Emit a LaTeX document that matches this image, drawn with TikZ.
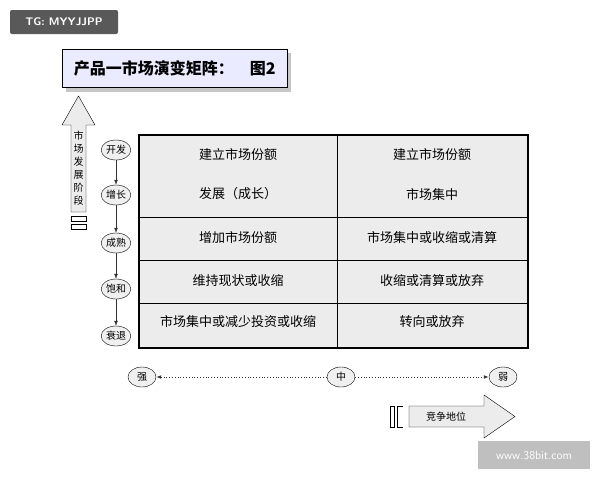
\documentclass[tikz,border=0pt]{standalone}
\usepackage{fontspec}
\newfontfamily\cjk{Noto Sans CJK SC}
\usetikzlibrary{arrows.meta,shapes.geometric}
\begin{document}
\begin{tikzpicture}[x=1pt,y=-1pt,font=\cjk\fontsize{12}{14}\selectfont,
  stage/.style={ellipse,draw,fill=gray!12,inner sep=0.5pt,minimum width=28pt,minimum height=20pt,font=\cjk\fontsize{10}{11}\selectfont},
  cell/.style={font=\cjk\fontsize{13}{15}\selectfont},
  flow/.style={-{Latex[length=5pt]},draw=gray!40!black}]
\useasboundingbox (0,0) rectangle (600,480);
\fill[white] (0,0) rectangle (600,480);
% badge
\fill[gray!70!black,rounded corners=2pt] (10,10) rectangle (118,34);
\node[text=white,font=\sffamily\bfseries\fontsize{11}{12}\selectfont] (tg) at (64,22) {TG: MYYJJPP};
% title
\fill[gray!45] (66,53) rectangle (291,92);
\node[draw,fill=blue!8,minimum width=225pt,minimum height=38pt,anchor=north west,font=\cjk\bfseries\fontsize{16}{18}\selectfont] (title) at (62,49) {产品一市场演变矩阵：\quad 图2};
% up arrow
\draw[fill=gray!15] (71,212) -- (71,125) -- (62,125) -- (78.5,96) -- (95,125) -- (86,125) -- (86,212) -- cycle;
\node[align=center,font=\cjk\fontsize{10}{13}\selectfont] (upt) at (78.5,168) {市\\场\\发\\展\\阶\\段};
\draw (71,216) rectangle (86,221);
\draw (71,224) rectangle (86,229);
% matrix
\fill[gray!15] (139,135) rectangle (528,348);
\draw[line width=1.2pt] (139,135) rectangle (528,348);
\draw (337,135) -- (337,348);
\foreach \y in {217,260,303} \draw (139,\y) -- (528,\y);
\node[cell] (a1) at (238,155) {建立市场份额};
\node[cell] (a2) at (238,194) {发展（成长）};
\node[cell] (a3) at (238,238) {增加市场份额};
\node[cell] (a4) at (238,281) {维持现状或收缩};
\node[cell] (a5) at (238,322) {市场集中或减少投资或收缩};
\node[cell] (b1) at (432,155) {建立市场份额};
\node[cell] (b2) at (432,194) {市场集中};
\node[cell] (b3) at (432,238) {市场集中或收缩或清算};
\node[cell] (b4) at (432,281) {收缩或清算或放弃};
\node[cell] (b5) at (432,322) {转向或放弃};
% stages
\node[stage] (s1) at (116,150) {开发};
\node[stage] (s2) at (116,195) {增长};
\node[stage] (s3) at (116,243) {成熟};
\node[stage] (s4) at (116,289) {饱和};
\node[stage] (s5) at (116,336) {衰退};
\draw[flow] (s1) -- (s2);
\draw[flow] (s2) -- (s3);
\draw[flow] (s3) -- (s4);
\draw[flow] (s4) -- (s5);
% competitive position
\node[stage] (c1) at (142,377) {强};
\node[stage] (c2) at (341,377) {中};
\node[stage] (c3) at (503,377) {弱};
\draw[flow,dotted,thick] (c2) -- (c1);
\draw[flow,dotted,thick] (c2) -- (c3);
\draw (390,406) rectangle (394,427);
\draw (397,406) -- (403,406) (397,406) -- (397,427) -- (403,427);
\draw[fill=gray!15] (409,406) -- (484,406) -- (484,395) -- (515,416.5) -- (484,438) -- (484,427) -- (409,427) -- cycle;
\node[font=\cjk\fontsize{10}{11}\selectfont] (cp) at (446,416.5) {竞争地位};
% watermark
\fill[gray!50] (478,441) rectangle (590,469);
\node[text=white,font=\sffamily\fontsize{12}{14}\selectfont] (wm) at (534,455) {www.38bit.com};
\end{tikzpicture}
\end{document}
